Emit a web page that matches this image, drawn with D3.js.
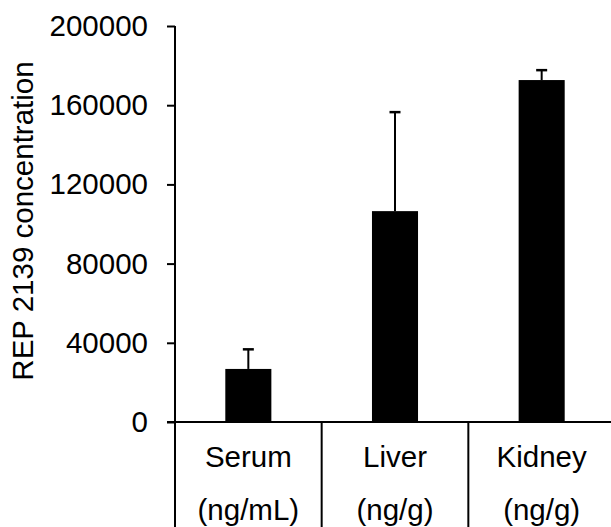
<html>
<script src="https://d3js.org/d3.v7.min.js"></script>
<style>
    body { margin: 0; background: white; }
    text { font-family: "Liberation Sans", Arial, sans-serif; fill: black; }
</style>
<body>
<svg id="chart" width="611" height="527"></svg>
<script>
    // data
    const tissues = ["Serum", "Liver", "Kidney"];
    const units = ["(ng/mL)", "(ng/g)", "(ng/g)"];
    const means = [26800, 106500, 172700];
    const errors = [9900, 50000, 5000];
    const yTicks = [0, 40000, 80000, 120000, 160000, 200000];

    var svg = d3.select("#chart");
    var fontSize = 29.5;

    var y = d3.scaleLinear()
        .domain([0, 200000])
        .range([422, 26]);

    // one band per tissue, no padding, so the band edges are the divider lines
    var x = d3.scaleBand()
        .domain(tissues)
        .range([175, 615])
        .padding(0);

    var barW = x.bandwidth() * 0.314;

    // y axis
    var yAxis = svg.append("g")
        .attr("transform", "translate(175,0)")
        .call(d3.axisLeft(y).tickValues(yTicks).tickSize(8).tickPadding(19).tickFormat(d => d));
    yAxis.select(".domain").remove();
    yAxis.selectAll(".tick line").attr("stroke", "black").attr("stroke-width", 2);
    yAxis.selectAll(".tick text")
        .style("font-size", fontSize + "px")
        .style("font-family", '"Liberation Sans", Arial, sans-serif')
        .attr("fill", "black");

    // vertical axis line, running past zero to the bottom
    svg.append("line")
        .attr("x1", 175).attr("x2", 175)
        .attr("y1", y(200000)).attr("y2", 527)
        .attr("stroke", "black").attr("stroke-width", 2);

    // baseline
    svg.append("line")
        .attr("x1", 167).attr("x2", 611)
        .attr("y1", y(0)).attr("y2", y(0))
        .attr("stroke", "black").attr("stroke-width", 2);

    // divider lines under the baseline
    svg.selectAll(".divider")
        .data(tissues.slice(1))
        .enter()
        .append("line")
        .attr("class", "divider")
        .attr("x1", d => x(d)).attr("x2", d => x(d))
        .attr("y1", y(0)).attr("y2", 527)
        .attr("stroke", "black").attr("stroke-width", 2);

    // bars
    svg.selectAll(".bar")
        .data(tissues)
        .enter()
        .append("rect")
        .attr("class", "bar")
        .attr("x", d => x(d) + x.bandwidth() / 2 - barW / 2)
        .attr("y", (d, i) => y(means[i]))
        .attr("width", barW)
        .attr("height", (d, i) => y(0) - y(means[i]))
        .attr("fill", "black");

    // error bars (upper only)
    svg.selectAll(".err")
        .data(tissues)
        .enter()
        .append("line")
        .attr("class", "err")
        .attr("x1", d => x(d) + x.bandwidth() / 2)
        .attr("x2", d => x(d) + x.bandwidth() / 2)
        .attr("y1", (d, i) => y(means[i]))
        .attr("y2", (d, i) => y(means[i] + errors[i]))
        .attr("stroke", "black").attr("stroke-width", 2);

    svg.selectAll(".cap")
        .data(tissues)
        .enter()
        .append("line")
        .attr("class", "cap")
        .attr("x1", d => x(d) + x.bandwidth() / 2 - 5.5)
        .attr("x2", d => x(d) + x.bandwidth() / 2 + 5.5)
        .attr("y1", (d, i) => y(means[i] + errors[i]))
        .attr("y2", (d, i) => y(means[i] + errors[i]))
        .attr("stroke", "black").attr("stroke-width", 2.5);

    // category labels
    svg.selectAll(".cat")
        .data(tissues)
        .enter()
        .append("text")
        .attr("class", "cat")
        .attr("x", d => x(d) + x.bandwidth() / 2)
        .attr("y", 467)
        .attr("text-anchor", "middle")
        .style("font-size", fontSize + "px")
        .text(d => d);

    svg.selectAll(".unit")
        .data(units)
        .enter()
        .append("text")
        .attr("class", "unit")
        .attr("x", (d, i) => x(tissues[i]) + x.bandwidth() / 2)
        .attr("y", 520)
        .attr("text-anchor", "middle")
        .style("font-size", fontSize + "px")
        .text(d => d);

    // y axis title
    svg.append("text")
        .attr("transform", "translate(33," + ((y(0) + y(200000)) / 2 - 3) + ") rotate(-90)")
        .attr("text-anchor", "middle")
        .style("font-size", fontSize + "px")
        .text("REP 2139 concentration");
</script>
</body>
</html>
